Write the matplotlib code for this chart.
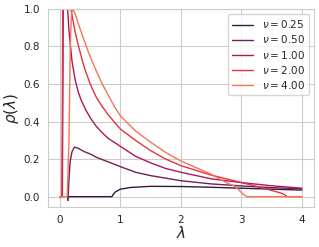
import matplotlib
matplotlib.use('Agg')
import matplotlib.pyplot as plt
import seaborn as sns
import numpy as np

# nu values and densities
nus = [0.25, 0.50, 1.00, 2.00, 4.00]

lam_025 = [0.13, 0.135, 0.5, 0.86, 0.88, 0.92, 1.0, 1.17, 1.5, 2.0, 2.5, 3.0, 3.5, 4.0]
rho_025 = [-0.02, 0.0, 0.0, 0.0, 0.012, 0.026, 0.04, 0.049, 0.055, 0.054, 0.05, 0.045, 0.04, 0.035]

lam_050 = [0.13, 0.135, 0.15, 0.17, 0.2, 0.24, 0.3, 0.4, 0.512, 0.6, 0.8, 1.0, 1.25, 1.5, 2.0, 2.5, 3.0, 3.5, 4.0]
rho_050 = [-0.02, 0.0, 0.1, 0.19, 0.24, 0.264, 0.258, 0.24, 0.226, 0.21, 0.185, 0.16, 0.13, 0.112, 0.085, 0.068, 0.057, 0.048, 0.042]

lam_100 = [0.0, 0.04, 0.06, 0.08, 0.1, 0.127, 0.15, 0.2, 0.25, 0.3, 0.35, 0.43, 0.512, 0.6, 0.7, 0.8, 1.0, 1.25, 1.5, 1.75, 2.0, 2.5, 3.0, 3.5, 4.0]
rho_100 = [0.0, 0.0, 1.3, 2.0, 1.6, 1.0, 0.88, 0.72, 0.625, 0.56, 0.515, 0.46, 0.415, 0.375, 0.34, 0.31, 0.268, 0.215, 0.18, 0.15, 0.13, 0.095, 0.075, 0.058, 0.045]

lam_200 = [0.0, 0.03, 0.04, 0.05, 0.1, 0.15, 0.18, 0.25, 0.3, 0.4, 0.5, 0.6, 0.7, 0.8, 1.0, 1.25, 1.5, 1.75, 2.0, 2.25, 2.5, 2.75, 3.0, 3.25, 3.5, 3.65, 3.72, 3.76, 4.0]
rho_200 = [0.0, 0.0, 0.5, 1.3, 1.6, 1.2, 1.0, 0.88, 0.81, 0.69, 0.6, 0.53, 0.48, 0.435, 0.36, 0.3, 0.245, 0.2, 0.165, 0.14, 0.115, 0.095, 0.075, 0.055, 0.033, 0.02, 0.01, 0.0, 0.0]

lam_400 = [0.0, 0.12, 0.15, 0.17, 0.19, 0.21, 0.25, 0.3, 0.375, 0.485, 0.6, 0.7, 0.8, 0.9, 1.0, 1.25, 1.5, 1.75, 2.0, 2.25, 2.5, 2.75, 2.9, 3.0, 3.05, 3.1, 4.0]
rho_400 = [0.0, 0.0, 0.3, 0.8, 0.97, 1.0, 0.975, 0.925, 0.855, 0.757, 0.67, 0.6, 0.54, 0.48, 0.43, 0.35, 0.29, 0.235, 0.19, 0.155, 0.12, 0.075, 0.054, 0.022, 0.008, 0.0, 0.0]

lams = [lam_025, lam_050, lam_100, lam_200, lam_400]
rhos = [rho_025, rho_050, rho_100, rho_200, rho_400]

sns.set_style('whitegrid')
colors = sns.color_palette('rocket', 6)[:len(nus)]

fig = plt.figure(figsize=(3.19, 2.47), dpi=100)
ax = fig.add_axes([0.15, 0.162, 0.834, 0.802])
for nu, l, r, c in zip(nus, lams, rhos, colors):
    ax.plot(l, r, color=c, lw=1.0, label=r'$\nu = %.2f$' % nu)

ax.set_xlim(-0.2, 4.2)
ax.set_ylim(-0.055, 1.0)
ax.set_xticks([0, 1, 2, 3, 4])
ax.set_yticks([0.0, 0.2, 0.4, 0.6, 0.8, 1.0])
ax.tick_params(labelsize=7.5, pad=2)
ax.set_xlabel(r'$\lambda$', fontsize=11, labelpad=0)
ax.set_ylabel(r'$\rho(\lambda)$', fontsize=11, labelpad=2)
ax.legend(loc='upper right', fontsize=7.5, handlelength=2.0, labelspacing=0.3,
          borderpad=0.4)
fig.savefig('out.png', dpi=100)
